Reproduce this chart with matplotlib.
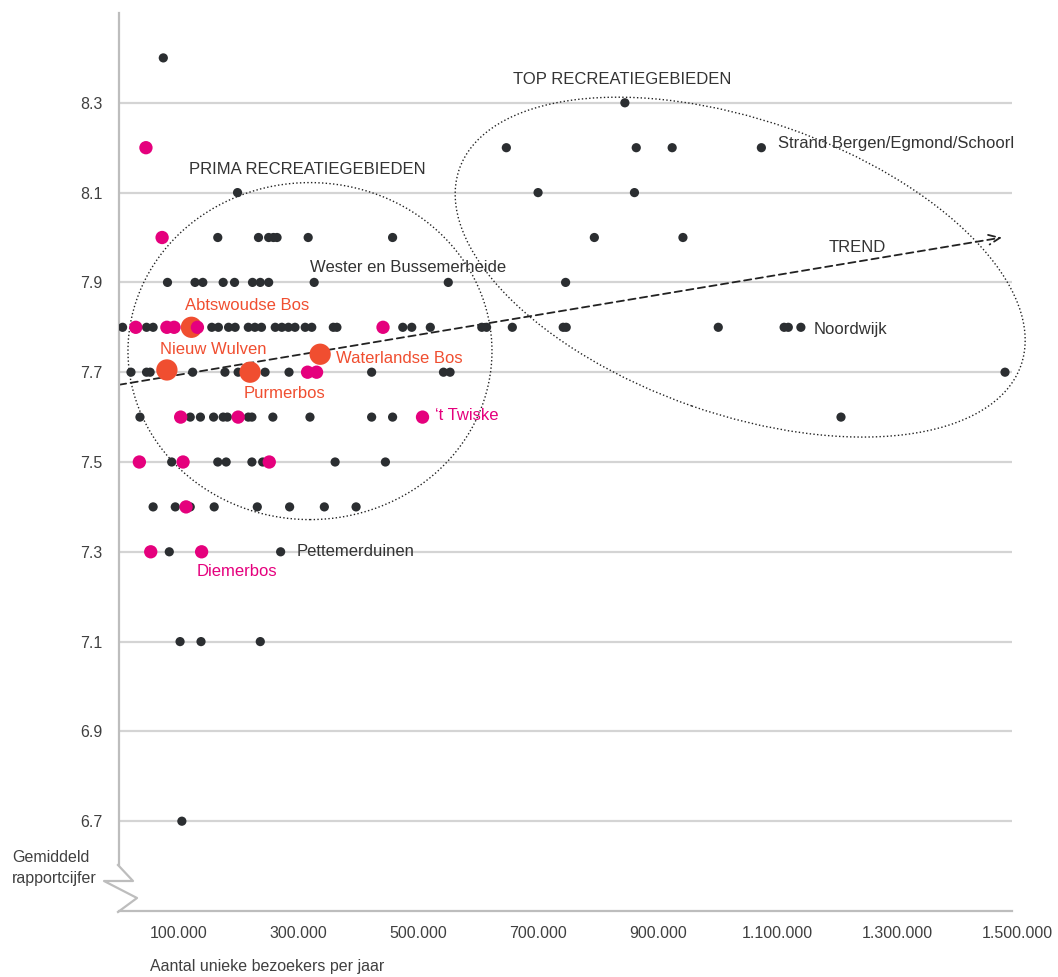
import matplotlib
matplotlib.use("Agg")
import matplotlib.pyplot as plt
from matplotlib.patches import Ellipse
from matplotlib.lines import Line2D
from matplotlib.transforms import ScaledTranslation

plt.rcParams['font.family'] = ['Liberation Sans', 'DejaVu Sans']

# visitors per year (x 1000) and average rating
black_x = [74,
           845,
           647, 864, 924, 1073,
           198, 700, 861,
           165, 233, 250, 258, 264, 316, 457, 794, 942,
           81, 127, 140, 174, 193, 223, 236, 250, 326, 550, 746,
           6, 46, 57, 155, 166, 183, 194, 216, 227, 238, 261, 272, 283, 294, 311, 322,
           358, 364, 474, 489, 520, 606, 614, 657, 742, 747, 1001, 1111, 1118, 1139,
           20, 46, 52, 123, 177, 199, 244, 284, 422, 542, 553, 1480,
           35, 119, 136, 158, 174, 181, 216, 222, 257, 319, 422, 457, 1206,
           88, 165, 179, 222, 240, 361, 445,
           57, 94, 119, 159, 231, 285, 343, 396,
           84, 270,
           102, 137, 236,
           105]
black_y = ([8.4] + [8.3] + [8.2] * 4 + [8.1] * 3 + [8.0] * 9 + [7.9] * 11 + [7.8] * 30
           + [7.7] * 12 + [7.6] * 13 + [7.5] * 7 + [7.4] * 8 + [7.3] * 2 + [7.1] * 3 + [6.7])

magenta_x = [45, 72, 28, 80, 92, 131, 441, 315, 330, 103, 199, 507, 34, 107, 251, 112, 53, 138]
magenta_y = [8.2, 8.0, 7.8, 7.8, 7.8, 7.8, 7.8, 7.7, 7.7, 7.6, 7.6, 7.6, 7.5, 7.5, 7.5, 7.4, 7.3, 7.3]

red_names = ['Abtswoudse Bos', 'Nieuw Wulven', 'Purmerbos', 'Waterlandse Bos']
red_x = [121, 80, 219, 336]
red_y = [7.8, 7.705, 7.7, 7.74]

# labels: text, x (x 1000), y, colour
labels = [
    ('Abtswoudse Bos', 110, 7.848, '#f04e30'),
    ('Nieuw Wulven', 68, 7.751, '#f04e30'),
    ('Waterlandse Bos', 362, 7.731, '#f04e30'),
    ('Purmerbos', 209, 7.653, '#f04e30'),
    ('\u2018t Twiske', 528, 7.603, '#e5007d'),
    ('Diemerbos', 130, 7.257, '#e5007d'),
    ('Pettemerduinen', 296, 7.3, '#333333'),
    ('Wester en Bussemerheide', 319, 7.933, '#333333'),
    ('Noordwijk', 1160, 7.796, '#333333'),
    ('Strand Bergen/Egmond/Schoorl', 1101, 8.209, '#333333'),
    ('PRIMA RECREATIEGEBIEDEN', 117, 8.151, '#333333'),
    ('TOP RECREATIEGEBIEDEN', 658, 8.353, '#333333'),
    ('TREND', 1185, 7.978, '#333333'),
]

x_ticks = [100, 300, 500, 700, 900, 1100, 1300, 1500]
y_ticks = [6.7, 6.9, 7.1, 7.3, 7.5, 7.7, 7.9, 8.1, 8.3]

trend_start = (0, 7.672)
trend_end = (1475, 8.0)

W, H = 1058, 977
fig = plt.figure(figsize=(W / 100, H / 100), dpi=100)
ax = fig.add_axes([119 / W, 1 - 911 / H, 898 / W, 898 / H])
ax.set_xlim(0, 1500)
ax.set_ylim(6.5, 8.5)

grid_c = '#d4d4d4'
axis_c = '#bdbdbd'
for yv in y_ticks:
    ax.hlines(yv, 0, 1492, color=grid_c, lw=1.6, zorder=0)

for s in ['top', 'right']:
    ax.spines[s].set_visible(False)
ax.spines['bottom'].set_bounds(0, 1492)
ax.spines['bottom'].set_color(axis_c)
ax.spines['bottom'].set_linewidth(1.6)
ax.spines['left'].set_bounds(6.602, 8.5)
ax.spines['left'].set_color(axis_c)
ax.spines['left'].set_linewidth(1.6)

# broken-axis zigzag at the bottom of the y axis (figure pixels)
zz_px = [(118, 865), (133, 881), (104, 881), (137, 898), (118, 912)]
fig.add_artist(Line2D([p[0] / W for p in zz_px], [1 - p[1] / H for p in zz_px],
                      transform=fig.transFigure, color=axis_c, lw=1.6))

ax.set_xticks(x_ticks)
ax.set_xticklabels(['{:,}'.format(v * 1000).replace(',', '.') for v in x_ticks])
ax.set_yticks(y_ticks)
ax.set_yticklabels(['{:.1f}'.format(v) for v in y_ticks])
ax.tick_params(axis='both', length=0, labelsize=11.5, labelcolor='#404040')
ax.tick_params(axis='y', pad=12)
ax.tick_params(axis='x', pad=11)

ax.scatter(black_x, black_y, s=44, color='#2b2e31', edgecolors='none', zorder=3)
ax.scatter(red_x, red_y, s=235, color='#f04e30', edgecolors='none', zorder=4)
ax.scatter(magenta_x, magenta_y, s=92, color='#e5007d', edgecolors='none', zorder=5)

for txt, lx, ly, c in labels:
    ax.text(lx, ly, txt, color=c, fontsize=12, ha='left', va='center', zorder=6)

# ellipses sized in inches, centred on a data point
def ring(cx, cy, w_in, h_in, angle):
    e = Ellipse((0, 0), w_in, h_in, angle=angle, fill=False, ls=':', lw=1.0,
                color='#222222', clip_on=False, zorder=2,
                transform=fig.dpi_scale_trans + ScaledTranslation(cx, cy, ax.transData))
    ax.add_patch(e)

ring(319, 7.747, 3.64, 3.37, 0)
ring(1037.6, 7.934, 5.95, 2.94, -19.25)

ax.annotate('', xy=trend_end, xytext=trend_start,
            arrowprops=dict(arrowstyle='->,head_length=0.8,head_width=0.35',
                            ls=(0, (4, 2.5)), lw=1.3, color='#222222',
                            shrinkA=0, shrinkB=0), zorder=2)

fig.text(12 / W, 1 - 857 / H, 'Gemiddeld', fontsize=11.5, color='#404040', va='center')
fig.text(12 / W, 1 - 878 / H, 'rapportcijfer', fontsize=11.5, color='#404040', va='center')
fig.text(150 / W, 1 - 967 / H, 'Aantal unieke bezoekers per jaar', fontsize=11.5,
         color='#404040', va='center')

fig.savefig('out.png', dpi=100)
